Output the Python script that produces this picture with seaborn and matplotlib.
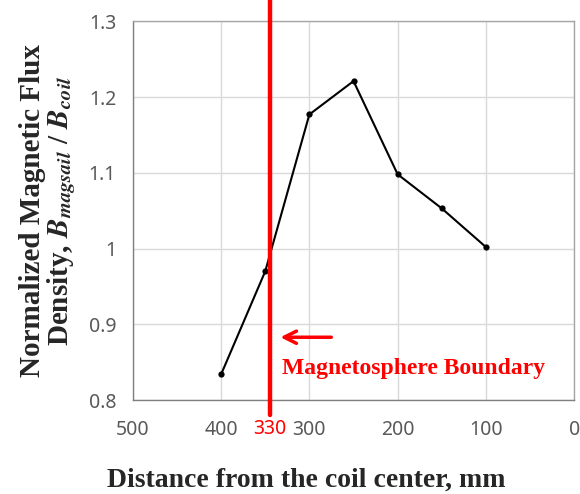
import numpy as np
import pandas as pd
import seaborn as sns
import matplotlib.pyplot as plt

# data
distance = [400, 350, 300, 250, 200, 150, 100]
b_ratio = [0.834, 0.970, 1.177, 1.221, 1.098, 1.053, 1.002]
boundary_x = 345
boundary_label = "330"
x_ticks = [500, 400, 300, 200, 100, 0]
y_ticks = [0.8, 0.9, 1.0, 1.1, 1.2, 1.3]
y_ticklabels = ["0.8", "0.9", "1", "1.1", "1.2", "1.3"]

df = pd.DataFrame({"distance": distance, "ratio": b_ratio})

sns.set_style("white")
plt.rcParams["mathtext.fontset"] = "stix"
serif = ["Liberation Serif", "DejaVu Serif"]
tickfont = ["Noto Sans", "DejaVu Sans"]

fig = plt.figure(figsize=(5.8, 4.94), dpi=100)
ax = fig.add_axes([0.229, 0.190, 0.761, 0.767])

ax.grid(True, color="#d9d9d9", linewidth=1)
sns.lineplot(data=df, x="distance", y="ratio", color="black", marker="o",
             markersize=4.5, markeredgewidth=0, linewidth=1.5, ax=ax)

ax.axvline(boundary_x, ymin=-0.04, ymax=1.06, color="red", linewidth=3.2,
           clip_on=False, zorder=5)

ax.set_xlim(500, 0)
ax.set_ylim(0.8, 1.3)
ax.set_xticks(x_ticks)
ax.set_xticklabels([str(v) for v in x_ticks], family=tickfont, fontsize=14,
                   color="#595959")
ax.set_yticks(y_ticks)
ax.set_yticklabels(y_ticklabels, family=tickfont, fontsize=14, color="#595959")
ax.tick_params(axis="x", length=0, pad=14)
ax.tick_params(axis="y", length=0, pad=12)

ax.text(boundary_x, -0.05, boundary_label, transform=ax.get_xaxis_transform(),
        ha="center", va="top", color="red", fontsize=14, family=tickfont)

for s in ax.spines.values():
    s.set_color("#a6a6a6")
    s.set_linewidth(1)
ax.spines["bottom"].set_color("#808080")
ax.spines["left"].set_color("#808080")

ax.annotate("", xy=(336, 0.883), xytext=(272, 0.883),
            arrowprops=dict(arrowstyle="->", color="red", lw=2.5,
                            mutation_scale=22))
ax.text(331, 0.842, "Magnetosphere Boundary", color="red", fontsize=17,
        fontweight="bold", family=serif, ha="left", va="center")

ax.set_xlabel("Distance from the coil center, mm", family=serif,
              fontweight="bold", fontsize=20)
ax.xaxis.set_label_coords(0.392, -0.178)
ax.set_ylabel("Normalized Magnetic Flux\nDensity, $\\mathbfit{B}_{\\mathbfit{magsail}}$ / $\\mathbfit{B}_{\\mathbfit{coil}}$",
              family=serif, fontweight="bold", fontsize=21, labelpad=8,
              linespacing=0.95)

fig.savefig("out.png", dpi=100)
